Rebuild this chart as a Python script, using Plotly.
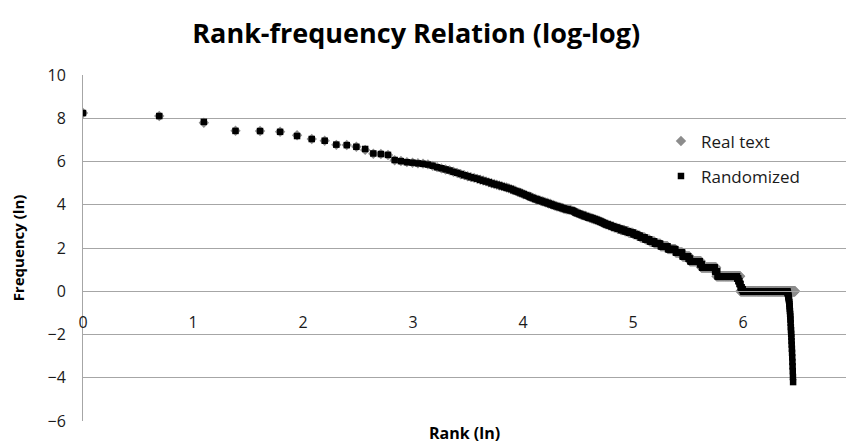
import numpy as np
import plotly.graph_objects as go

# Frequencies of the most frequent word types (ranks 1..109)
real_top_freq = [3790, 3300, 2420, 1670, 1650, 1600, 1360, 1141, 1054, 871,
                 863, 796, 690, 578, 572, 545, 428, 412, 392, 380,
                 372, 365, 354, 330, 311, 293, 279, 268, 252, 238,
                 224, 215, 204, 196, 189, 181, 174, 167, 161, 154,
                 148, 143, 138, 133, 129, 125, 121, 117, 112, 108,
                 104, 99, 96, 93, 89, 86, 82, 80, 77, 74,
                 72, 69, 68, 66, 64, 63, 61, 60, 58, 57,
                 55, 54, 52, 51, 50, 49, 48, 47, 46, 45,
                 44, 44, 43, 43, 42, 41, 40, 39, 37, 37,
                 36, 35, 34, 34, 33, 33, 32, 31, 31, 30,
                 30, 29, 29, 28, 28, 27, 27, 26, 26]
rand_top_freq = [3790, 3300, 2520, 1660, 1650, 1590, 1310, 1141, 1054, 880,
                 860, 796, 720, 585, 570, 548, 432, 410, 390, 382,
                 370, 362, 350, 332, 309, 295, 280, 266, 250, 239,
                 226, 214, 205, 195, 188, 182, 173, 166, 160, 155,
                 147, 142, 138, 134, 128, 124, 120, 116, 113, 107,
                 103, 100, 96, 92, 89, 85, 83, 79, 76, 74,
                 71, 70, 67, 66, 64, 62, 61, 59, 58, 56,
                 55, 53, 52, 51, 50, 49, 48, 47, 46, 45,
                 44, 44, 43, 42, 42, 41, 40, 38, 37, 37,
                 36, 35, 34, 34, 33, 32, 32, 31, 30, 30,
                 30, 29, 29, 28, 28, 27, 27, 26, 26]

# Frequency spectrum of the remaining words: frequency value -> number of word types
real_spec_freq = [25, 24, 23, 22, 21, 20, 19, 18, 17, 16, 15, 14, 13, 12, 11, 10, 9, 8, 7, 6, 5, 4, 3, 2, 1]
real_spec_count = [2, 2, 2, 3, 3, 3, 4, 4, 5, 5, 6, 5, 5, 7, 7, 8, 10, 13, 15, 14, 16, 27, 41, 77, 254]

# Randomized text (averaged frequencies, so the steps are softened)
rand_spec_freq = [25, 24, 23, 22, 21, 20, 19, 18, 17, 16, 15, 14, 13, 12, 11, 10, 9, 8, 7, 6,
                  5, 4.5, 4, 3.5, 3, 2.5, 2, 1.8, 1.6, 1.4, 1.2, 1.1, 1]
rand_spec_count = [2, 2, 2, 3, 3, 3, 4, 4, 5, 5, 6, 5, 5, 7, 7, 8, 10, 13, 15, 14,
                   13, 4, 23, 5, 35, 7, 63, 4, 4, 4, 4, 4, 200]
# averaged frequencies of the last ranks of the randomized text (below 1)
rand_tail_freq = [0.99, 0.97, 0.95, 0.92, 0.89, 0.85, 0.81, 0.77, 0.73, 0.69,
                  0.65, 0.60, 0.55, 0.50, 0.45, 0.40, 0.35, 0.31, 0.27, 0.23,
                  0.19, 0.165, 0.14, 0.12, 0.10, 0.085, 0.07, 0.058, 0.047, 0.038,
                  0.031, 0.025, 0.019, 0.015]

series_names = ["Real text", "Randomized"]


def expand(top, spec_f, spec_c, tail):
    freqs = list(top)
    for f, c in zip(spec_f, spec_c):
        freqs += [f] * c
    freqs += list(tail)
    freqs = np.array(freqs, dtype=float)
    ranks = np.arange(1, len(freqs) + 1)
    return np.log(ranks), np.log(freqs)


xr, yr = expand(real_top_freq, real_spec_freq, real_spec_count, [])
xd, yd = expand(rand_top_freq, rand_spec_freq, rand_spec_count, rand_tail_freq)

FONT = "Open Sans"
TXT = "#1a1a1a"
GRID = "#a6a6a6"

fig = go.Figure()
fig.add_trace(go.Scatter(x=xr, y=yr, mode="markers", name=series_names[0],
                         legendgroup="a",
                         marker=dict(symbol="diamond", size=8, color="#8c8c8c", line=dict(width=0))))
fig.add_trace(go.Scatter(x=xd, y=yd, mode="markers", name=series_names[1],
                         legendgroup="b",
                         marker=dict(symbol="square", size=6.5, color="#000000", line=dict(width=0))))

fig.update_layout(
    width=846, height=445,
    margin=dict(l=83, r=0, t=75, b=24),
    plot_bgcolor="white", paper_bgcolor="white",
    font=dict(family=FONT, size=16, color=TXT),
    title=dict(text="<b>Rank-frequency Relation (log-log)</b>", font=dict(family=FONT, size=27, color="#000000"),
               xref="container", x=0.492, xanchor="center",
               yref="container", y=1 - 34 / 445, yanchor="middle"),
    showlegend=True,
    legend=dict(x=0.7575, y=0.86, xanchor="left", yanchor="top",
                font=dict(family=FONT, size=17, color=TXT),
                tracegroupgap=10, traceorder="grouped", bgcolor="rgba(0,0,0,0)"),
    xaxis=dict(range=[0, 6.936], tickvals=[0, 1, 2, 3, 4, 5, 6], showgrid=False, zeroline=False,
               anchor="free", position=6 / 16, showline=True, linecolor=GRID, linewidth=1,
               ticks="", ticklabelstandoff=17, tickfont=dict(family=FONT, size=16, color=TXT)),
    yaxis=dict(range=[-6, 10], dtick=2, tick0=0, showgrid=True, gridcolor=GRID, gridwidth=1,
               zeroline=False, showline=True, linecolor=GRID, linewidth=1, ticks="",
               ticklabelstandoff=13, tickfont=dict(family=FONT, size=16, color=TXT),
               title=dict(text="<b>Frequency (ln)</b>", font=dict(family=FONT, size=15, color="#000000"),
                          standoff=19)),
    annotations=[dict(text="<b>Rank (ln)</b>", xref="paper", yref="paper", x=0.5, y=-12 / 346,
                      xanchor="center", yanchor="middle", showarrow=False,
                      font=dict(family=FONT, size=16, color="#000000"))],
)

fig.write_html("out.html")
